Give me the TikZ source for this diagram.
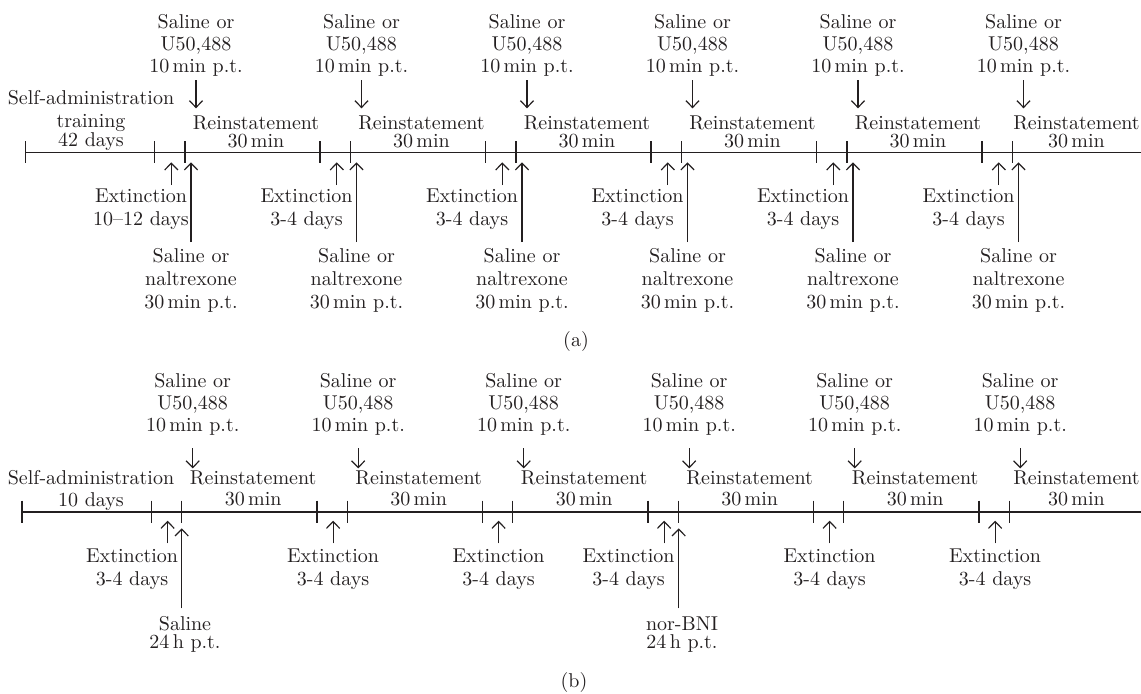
\documentclass[tikz,border=0pt]{standalone}
\usepackage{tikz}
\usetikzlibrary{arrows.meta,calc}
\definecolor{ink}{RGB}{35,31,32}

\begin{document}
\begin{tikzpicture}[x=0.5pt, y=-0.5pt,
    lbl/.style={align=center, inner sep=0pt, text=ink, font=\fontsize{10}{11.65}\selectfont},
    dosetext/.style={lbl, anchor=south, font=\fontsize{10}{11}\selectfont},
    axisline/.style={draw=ink, line width=0.6pt},
    tickmark/.style={draw=ink, line width=0.6pt},
    arr/.style={draw=ink, line width=0.6pt, -{Straight Barb[length=3.4pt,width=6.6pt]}},
    adown/.style={arr, shorten <=1.4pt, shorten >=22pt},
    aext/.style={arr, shorten <=1.5pt, shorten >=5pt},
    apre/.style={arr, shorten <=2.9pt, shorten >=5pt},
    bdown/.style={arr, shorten <=6.2pt, shorten >=21.8pt},
    bext/.style={arr, shorten <=2.35pt, shorten >=4.35pt},
    bpre/.style={arr, shorten <=3.85pt, shorten >=8.15pt}]

    \useasboundingbox (0,0) rectangle (1141,693);

    % (a)
    \coordinate (ax) at (25.5,152.3);
    \draw[axisline] (ax) -- (1141,152.3);
    \draw[tickmark] (25.5,141) -- (25.5,163.3);
    \node[lbl, anchor=south] (sa) at (91,150.6) {Self-administration\\training\\[-2.45pt]42 days};

    \draw[tickmark] (154.5,141) -- (154.5,163.3) (185,141) -- (185,163.3);
    \coordinate (am1) at (171.3,152.3);
    \node[dosetext] (au1) at (196,77.2) {Saline or\\U50,488\\10\,min p.t.};
    \node[lbl, anchor=south] (ar1) at (256,148.3) {Reinstatement\\[-2.5pt]30\,min};
    \node[lbl, anchor=north] (ae1) at (141,188) {Extinction\\10--12 days};
    \node[lbl, anchor=north] (an1) at (191,247.8) {Saline or\\naltrexone\\30\,min p.t.};
    \draw[adown] (au1) -- (au1 |- ax);
    \draw[aext] (ae1.north -| am1) -- (am1);
    \draw[apre] (an1) -- (an1 |- ax);

    \draw[tickmark] (320,141) -- (320,163.3) (350.5,141) -- (350.5,163.3);
    \coordinate (am2) at (336.8,152.3);
    \node[dosetext] (au2) at (361.5,77.2) {Saline or\\U50,488\\10\,min p.t.};
    \node[lbl, anchor=south] (ar2) at (421.5,148.3) {Reinstatement\\[-2.5pt]30\,min};
    \node[lbl, anchor=north] (ae2) at (306.5,188) {Extinction\\3-4 days};
    \node[lbl, anchor=north] (an2) at (356.5,247.8) {Saline or\\naltrexone\\30\,min p.t.};
    \draw[adown] (au2) -- (au2 |- ax);
    \draw[aext] (ae2.north -| am2) -- (am2);
    \draw[apre] (an2) -- (an2 |- ax);

    \draw[tickmark] (485.5,141) -- (485.5,163.3) (516,141) -- (516,163.3);
    \coordinate (am3) at (502.3,152.3);
    \node[dosetext] (au3) at (527,77.2) {Saline or\\U50,488\\10\,min p.t.};
    \node[lbl, anchor=south] (ar3) at (587,148.3) {Reinstatement\\[-2.5pt]30\,min};
    \node[lbl, anchor=north] (ae3) at (472,188) {Extinction\\3-4 days};
    \node[lbl, anchor=north] (an3) at (522,247.8) {Saline or\\naltrexone\\30\,min p.t.};
    \draw[adown] (au3) -- (au3 |- ax);
    \draw[aext] (ae3.north -| am3) -- (am3);
    \draw[apre] (an3) -- (an3 |- ax);

    \draw[tickmark] (651,141) -- (651,163.3) (681.5,141) -- (681.5,163.3);
    \coordinate (am4) at (667.8,152.3);
    \node[dosetext] (au4) at (692.5,77.2) {Saline or\\U50,488\\10\,min p.t.};
    \node[lbl, anchor=south] (ar4) at (752.5,148.3) {Reinstatement\\[-2.5pt]30\,min};
    \node[lbl, anchor=north] (ae4) at (637.5,188) {Extinction\\3-4 days};
    \node[lbl, anchor=north] (an4) at (687.5,247.8) {Saline or\\naltrexone\\30\,min p.t.};
    \draw[adown] (au4) -- (au4 |- ax);
    \draw[aext] (ae4.north -| am4) -- (am4);
    \draw[apre] (an4) -- (an4 |- ax);

    \draw[tickmark] (816.5,141) -- (816.5,163.3) (847,141) -- (847,163.3);
    \coordinate (am5) at (833.3,152.3);
    \node[dosetext] (au5) at (858,77.2) {Saline or\\U50,488\\10\,min p.t.};
    \node[lbl, anchor=south] (ar5) at (918,148.3) {Reinstatement\\[-2.5pt]30\,min};
    \node[lbl, anchor=north] (ae5) at (803,188) {Extinction\\3-4 days};
    \node[lbl, anchor=north] (an5) at (853,247.8) {Saline or\\naltrexone\\30\,min p.t.};
    \draw[adown] (au5) -- (au5 |- ax);
    \draw[aext] (ae5.north -| am5) -- (am5);
    \draw[apre] (an5) -- (an5 |- ax);

    \draw[tickmark] (982,141) -- (982,163.3) (1012.5,141) -- (1012.5,163.3);
    \coordinate (am6) at (998.8,152.3);
    \node[dosetext] (au6) at (1023.5,77.2) {Saline or\\U50,488\\10\,min p.t.};
    \node[lbl, anchor=south] (ar6) at (1076.5,148.3) {Reinstatement\\[-2.5pt]30\,min};
    \node[lbl, anchor=north] (ae6) at (968.5,188) {Extinction\\3-4 days};
    \node[lbl, anchor=north] (an6) at (1018.5,247.8) {Saline or\\naltrexone\\30\,min p.t.};
    \draw[adown] (au6) -- (au6 |- ax);
    \draw[aext] (ae6.north -| am6) -- (am6);
    \draw[apre] (an6) -- (an6 |- ax);

    \node[lbl, anchor=base] (capa) at (576,346) {(a)};

    % (b)
    \coordinate (bx) at (22,512);
    \draw[axisline] (bx) -- (1141,512);
    \draw[tickmark] (22,500.7) -- (22,523.3);
    \node[lbl, anchor=south] (sb) at (91,510.6) {Self-administration\\[-0.8pt]10 days};

    \draw[tickmark] (151.5,500.7) -- (151.5,523.3) (181.7,500.7) -- (181.7,523.3);
    \coordinate (bm1) at (167.6,512);
    \coordinate (bk1) at (181.7,512);
    \node[dosetext] (bu1) at (192.7,435.6) {Saline or\\U50,488\\10\,min p.t.};
    \node[lbl, anchor=south] (br1) at (253.2,506.7) {Reinstatement\\[-0.8pt]30\,min};
    \node[lbl, anchor=north] (be1) at (132.1,548) {Extinction\\3-4 days};
    \node[lbl, anchor=north] (bs) at (185,616) {Saline\\[-2.5pt]24\,h p.t.};
    \draw[bdown] (bu1) -- (bu1 |- bx);
    \draw[bext] (be1.north -| bm1) -- (bm1);
    \draw[bpre] (bs.north -| bk1) -- (bk1);

    \draw[tickmark] (317,500.7) -- (317,523.3) (347.2,500.7) -- (347.2,523.3);
    \coordinate (bm2) at (333.1,512);
    \node[dosetext] (bu2) at (358.2,435.6) {Saline or\\U50,488\\10\,min p.t.};
    \node[lbl, anchor=south] (br2) at (418.7,506.7) {Reinstatement\\[-0.8pt]30\,min};
    \node[lbl, anchor=north] (be2) at (333.1,548) {Extinction\\3-4 days};
    \draw[bdown] (bu2) -- (bu2 |- bx);
    \draw[bext] (be2.north -| bm2) -- (bm2);

    \draw[tickmark] (482.5,500.7) -- (482.5,523.3) (512.7,500.7) -- (512.7,523.3);
    \coordinate (bm3) at (498.6,512);
    \node[dosetext] (bu3) at (523.7,435.6) {Saline or\\U50,488\\10\,min p.t.};
    \node[lbl, anchor=south] (br3) at (584.2,506.7) {Reinstatement\\[-0.8pt]30\,min};
    \node[lbl, anchor=north] (be3) at (498.6,548) {Extinction\\3-4 days};
    \draw[bdown] (bu3) -- (bu3 |- bx);
    \draw[bext] (be3.north -| bm3) -- (bm3);

    \draw[tickmark] (648,500.7) -- (648,523.3) (678.2,500.7) -- (678.2,523.3);
    \coordinate (bm4) at (664.1,512);
    \coordinate (bk4) at (678.7,512);
    \node[dosetext] (bu4) at (689.2,435.6) {Saline or\\U50,488\\10\,min p.t.};
    \node[lbl, anchor=south] (br4) at (749.7,506.7) {Reinstatement\\[-0.8pt]30\,min};
    \node[lbl, anchor=north] (be4) at (628.6,548) {Extinction\\3-4 days};
    \node[lbl, anchor=north] (bn) at (682,616) {nor-BNI\\[-2.5pt]24\,h p.t.};
    \draw[bdown] (bu4) -- (bu4 |- bx);
    \draw[bext] (be4.north -| bm4) -- (bm4);
    \draw[bpre] (bn.north -| bk4) -- (bk4);

    \draw[tickmark] (813.5,500.7) -- (813.5,523.3) (843.7,500.7) -- (843.7,523.3);
    \coordinate (bm5) at (829.6,512);
    \node[dosetext] (bu5) at (854.7,435.6) {Saline or\\U50,488\\10\,min p.t.};
    \node[lbl, anchor=south] (br5) at (915.2,506.7) {Reinstatement\\[-0.8pt]30\,min};
    \node[lbl, anchor=north] (be5) at (829.6,548) {Extinction\\3-4 days};
    \draw[bdown] (bu5) -- (bu5 |- bx);
    \draw[bext] (be5.north -| bm5) -- (bm5);

    \draw[tickmark] (979,500.7) -- (979,523.3) (1009.2,500.7) -- (1009.2,523.3);
    \coordinate (bm6) at (995.1,512);
    \node[dosetext] (bu6) at (1020.2,435.6) {Saline or\\U50,488\\10\,min p.t.};
    \node[lbl, anchor=south] (br6) at (1076.5,506.7) {Reinstatement\\[-0.8pt]30\,min};
    \node[lbl, anchor=north] (be6) at (995.1,548) {Extinction\\3-4 days};
    \draw[bdown] (bu6) -- (bu6 |- bx);
    \draw[bext] (be6.north -| bm6) -- (bm6);

    \node[lbl, anchor=base] (capb) at (574,687) {(b)};
\end{tikzpicture}
\end{document}
